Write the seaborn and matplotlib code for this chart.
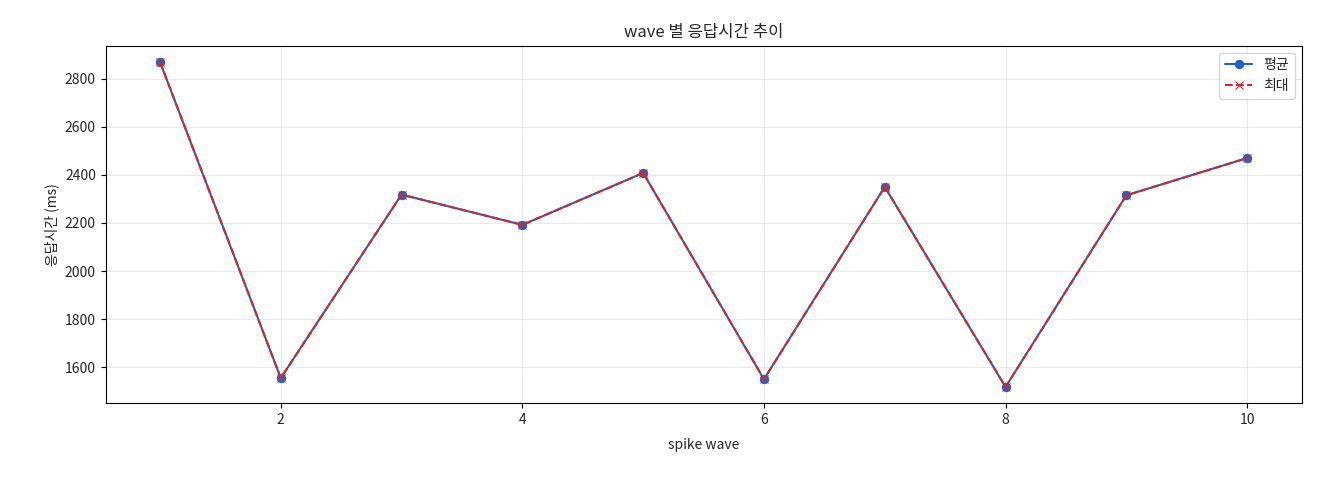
import matplotlib
matplotlib.use("Agg")
import matplotlib.pyplot as plt
import seaborn as sns
import pandas as pd

waves = [1, 2, 3, 4, 5, 6, 7, 8, 9, 10]
avg_ms = [2870, 1555, 2318, 2192, 2408, 1550, 2350, 1518, 2315, 2470]
max_ms = [2870, 1555, 2318, 2192, 2408, 1550, 2350, 1518, 2315, 2470]

sns.set_style("white")
plt.rcParams['font.family'] = ['Noto Sans CJK KR', 'DejaVu Sans']
plt.rcParams['axes.unicode_minus'] = False

df = pd.DataFrame({"wave": waves, "avg": avg_ms, "max": max_ms})
fig, ax = plt.subplots(figsize=(13.2, 4.8), dpi=100)
sns.lineplot(data=df, x="wave", y="avg", ax=ax, color="#1f63c4", marker="o",
             markersize=6, markeredgecolor="#1f63c4", label="평균")
sns.lineplot(data=df, x="wave", y="max", ax=ax, color="#d62728", marker="x",
             markersize=6, linestyle="--", markeredgecolor="#d62728", label="최대")
ax.set_title("wave 별 응답시간 추이", fontsize=12)
ax.set_xlabel("spike wave", fontsize=10, labelpad=8)
ax.set_ylabel("응답시간 (ms)", fontsize=10)
ax.tick_params(axis="both", which="major", length=3.5, width=0.8, color="black",
               bottom=True, left=True, labelsize=10)
ax.grid(True, alpha=0.4)
for s in ax.spines.values():
    s.set_color("black")
ax.legend(loc="upper right")
fig.subplots_adjust(left=0.08, right=0.986, top=0.905, bottom=0.16)
fig.savefig("out.png")
